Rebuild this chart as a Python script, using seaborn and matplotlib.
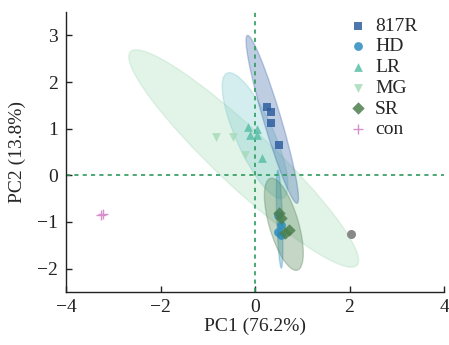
import numpy as np
import pandas as pd
import seaborn as sns
import matplotlib.pyplot as plt
from matplotlib.patches import Ellipse

sns.set_theme(style='white')
plt.rcParams['font.family'] = ['Liberation Serif', 'DejaVu Serif']
plt.rcParams['mathtext.fontset'] = 'stix'

# PCA scores per group
groups = ['817R', 'HD', 'LR', 'MG', 'SR', 'con']
pc1_817r = [0.25, 0.34, 0.34, 0.51]
pc2_817r = [1.46, 1.35, 1.13, 0.64]
pc1_hd = [0.49, 0.54, 0.49, 0.55]
pc2_hd = [-0.86, -1.07, -1.22, -1.28]
pc1_lr = [-0.14, 0.05, -0.10, 0.05, 0.15]
pc2_lr = [1.03, 1.00, 0.86, 0.86, 0.38]
pc1_mg = [-0.83, -0.46, -0.21]
pc2_mg = [0.82, 0.82, 0.43]
pc1_sr = [0.51, 0.54, 0.71, 0.64]
pc2_sr = [-0.81, -0.92, -1.18, -1.24]
pc1_con = [-3.27, -3.21]
pc2_con = [-0.85, -0.83]
outlier_pc1 = [2.04]
outlier_pc2 = [-1.25]

# confidence ellipses (centre, axis lengths, angle in degrees)
ell_group = ['MG', 'LR', '817R', 'HD', 'SR']
ell_cx = [-0.24, 0.00, 0.365, 0.52, 0.61]
ell_cy = [0.36, 0.85, 1.20, -0.94, -1.05]
ell_len = [6.63, 2.93, 3.75, 2.1, 2.05]
ell_wid = [1.2, 0.8, 0.37, 0.12, 0.62]
ell_ang = [136.3, 113.8, 106.3, 92.0, 106.1]
ell_fill = ['#a6dbb9', '#7cc9cc', '#3a64a8', '#2b8cbe', '#4c7f4e']

colors = {'817R': '#2f5f9f', 'HD': '#2b8cbe', 'LR': '#5bbfa8',
          'MG': '#a6dbb9', 'SR': '#4c7f4e', 'con': '#d890cc'}
markers = {'817R': 's', 'HD': 'o', 'LR': '^', 'MG': 'v', 'SR': 'D', 'con': '+'}

pc1 = [pc1_817r, pc1_hd, pc1_lr, pc1_mg, pc1_sr, pc1_con]
pc2 = [pc2_817r, pc2_hd, pc2_lr, pc2_mg, pc2_sr, pc2_con]
df = pd.DataFrame({
    'PC1': np.concatenate(pc1),
    'PC2': np.concatenate(pc2),
    'group': np.repeat(groups, [len(v) for v in pc1]),
})

fig, ax = plt.subplots(figsize=(4.49, 3.45), dpi=100)
fig.subplots_adjust(left=0.147, right=0.989, bottom=0.154, top=0.965)

for fc, cx, cy, w, h, a in zip(ell_fill, ell_cx, ell_cy, ell_len, ell_wid, ell_ang):
    ax.add_patch(Ellipse((cx, cy), w, h, angle=a, facecolor=fc,
                         alpha=0.32, edgecolor=fc, lw=1.0, zorder=1))

ax.axhline(0, color='#2e9a5e', ls=(0, (2.5, 2.5)), lw=1.2, zorder=2)
ax.axvline(0, color='#2e9a5e', ls=(0, (2.5, 2.5)), lw=1.2, zorder=2)

for g in groups:
    sub = df[df['group'] == g]
    if markers[g] == '+':
        sns.scatterplot(data=sub, x='PC1', y='PC2', color=colors[g],
                        marker='+', s=45, linewidth=1.0, label=g, ax=ax,
                        zorder=3)
    else:
        sns.scatterplot(data=sub, x='PC1', y='PC2', color=colors[g],
                        marker=markers[g], s=40, alpha=0.85, linewidth=0,
                        label=g, ax=ax, zorder=3)
ax.scatter(outlier_pc1, outlier_pc2, s=30, color='#888888', zorder=3)

handles, labels = ax.get_legend_handles_labels()
ax.legend(handles, labels, loc='upper right', frameon=False, fontsize=14,
          handletextpad=0.05, labelspacing=0.16, borderaxespad=0.0,
          handlelength=1.6, bbox_to_anchor=(0.95, 1.01))

ax.set_xlim(-4, 4)
ax.set_ylim(-2.5, 3.5)
ax.set_xticks([-4, -2, 0, 2, 4])
ax.set_yticks([-2, -1, 0, 1, 2, 3])
ax.set_xlabel('PC1 (76.2%)', fontsize=14, labelpad=1)
ax.set_ylabel('PC2 (13.8%)', fontsize=14, labelpad=8)
ax.tick_params(axis='x', pad=5)
ax.tick_params(axis='y', pad=6)
ax.tick_params(direction='in', length=4, width=1, labelsize=14,
               bottom=True, left=True, colors='#222222')
for s in ['top', 'right']:
    ax.spines[s].set_visible(False)
for s in ['left', 'bottom']:
    ax.spines[s].set_color('#222222')
    ax.spines[s].set_linewidth(1.0)

fig.savefig('out.png', dpi=100)
